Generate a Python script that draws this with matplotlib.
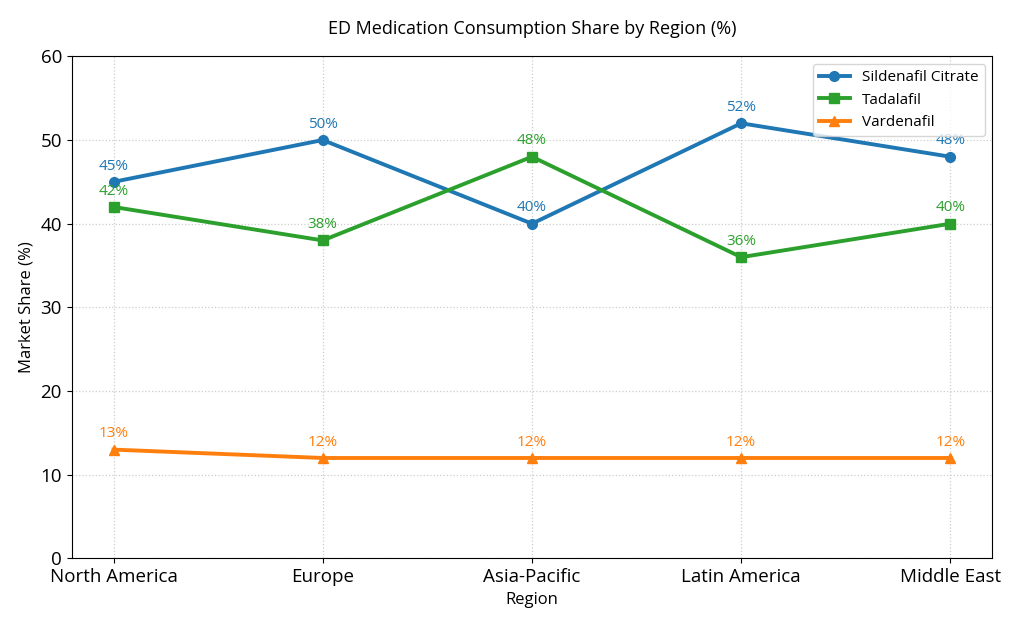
import matplotlib
matplotlib.use("Agg")
import matplotlib.pyplot as plt

plt.rcParams['font.family'] = ['Open Sans', 'DejaVu Sans']

regions = ["North America", "Europe", "Asia-Pacific", "Latin America", "Middle East"]
sildenafil = [45, 50, 40, 52, 48]
tadalafil = [42, 38, 48, 36, 40]
vardenafil = [13, 12, 12, 12, 12]

series = [
    ("Sildenafil Citrate", sildenafil, "#1f77b4", "o"),
    ("Tadalafil", tadalafil, "#2ca02c", "s"),
    ("Vardenafil", vardenafil, "#ff7f0e", "^"),
]

fig, ax = plt.subplots(figsize=(10.24, 6.26), dpi=100)
x = list(range(len(regions)))

for name, vals, color, marker in series:
    ax.plot(x, vals, color=color, marker=marker, linewidth=2.8, markersize=7, label=name)
    for xi, v in zip(x, vals):
        ax.annotate(f"{v}%", (xi, v), textcoords="offset points", xytext=(0, 6),
                    ha="center", va="bottom", color=color, fontsize=11)

ax.set_xticks(x)
ax.set_xticklabels(regions, fontsize=13.5)
ax.tick_params(axis="y", labelsize=13.5)
ax.set_ylim(0, 60)
ax.set_xlim(-0.2, 4.2)
ax.set_xlabel("Region", fontsize=12)
ax.set_ylabel("Market Share (%)", fontsize=12)
ax.set_title("ED Medication Consumption Share by Region (%)", fontsize=13, pad=16)
ax.grid(True, linestyle=":", color="#cccccc", linewidth=0.9)
ax.legend(loc="upper right", fontsize=11)

plt.subplots_adjust(left=0.07, right=0.969, top=0.91, bottom=0.108)
plt.savefig("out.png", dpi=100)
